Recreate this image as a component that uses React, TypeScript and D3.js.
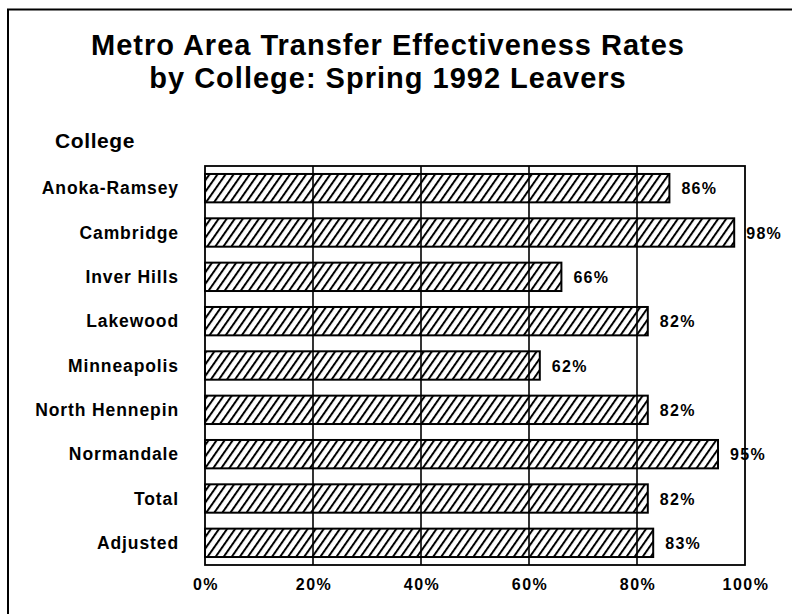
import * as d3 from "d3";

// data
const colleges = [
  "Anoka-Ramsey",
  "Cambridge",
  "Inver Hills",
  "Lakewood",
  "Minneapolis",
  "North Hennepin",
  "Normandale",
  "Total",
  "Adjusted",
];
const rates = [86, 98, 66, 82, 62, 82, 95, 82, 83];
const ticks = [0, 20, 40, 60, 80, 100];
const titleLines = [
  "Metro Area Transfer Effectiveness Rates",
  "by College: Spring 1992 Leavers",
];

const W = 792;
const H = 614;
const font = "'Liberation Sans', Arial, Helvetica, sans-serif";

const App = () => {
  const x = d3.scaleLinear().domain([0, 100]).range([205, 745]);
  const y = d3
    .scaleBand<string>()
    .domain(colleges)
    .range([166, 565])
    .paddingInner(0.36)
    .paddingOuter(0.18);

  return (
    <svg
      width={W}
      height={H}
      style={{ position: "absolute", left: 0, top: 0, background: "#fff" }}
    >
      <defs>
        <pattern
          id="hatch"
          patternUnits="userSpaceOnUse"
          width={6.6}
          height={10}
          patternTransform="rotate(35)"
        >
          <rect width={6.6} height={10} fill="#fff" />
          <line x1={1} y1={0} x2={1} y2={10} stroke="#000" strokeWidth={2} />
        </pattern>
      </defs>

      {/* outer frame (only top and left edges are inside the picture) */}
      <rect x={8} y={9.5} width={W + 20} height={H + 20} fill="none" stroke="#000" strokeWidth={2} />

      {/* title */}
      <g fontFamily={font} fontWeight="bold" fontSize={29} textAnchor="middle" letterSpacing={1}>
        {titleLines.map((t, i) => (
          <text key={t} x={388} y={55 + i * 33}>
            {t}
          </text>
        ))}
      </g>

      <text x={55} y={148} fontFamily={font} fontWeight="bold" fontSize={21} letterSpacing={0.6}>
        College
      </text>

      {/* bars */}
      {colleges.map((c, i) => (
        <rect
          key={c}
          x={x(0)}
          y={y(c)}
          width={x(rates[i]) - x(0)}
          height={y.bandwidth()}
          fill="url(#hatch)"
          stroke="#000"
          strokeWidth={2}
        />
      ))}

      {/* gridlines on top of bars */}
      {ticks.slice(1, -1).map((t) => (
        <line key={t} x1={x(t)} x2={x(t)} y1={166} y2={565} stroke="#000" strokeWidth={1.6} />
      ))}

      {/* plot frame */}
      <rect x={x(0)} y={166} width={x(100) - x(0)} height={565 - 166} fill="none" stroke="#000" strokeWidth={1.8} />

      {/* category labels */}
      <g fontFamily={font} fontWeight="bold" fontSize={17.5} textAnchor="end" letterSpacing={0.9}>
        {colleges.map((c) => (
          <text key={c} x={179} y={(y(c) ?? 0) + y.bandwidth() / 2 + 6}>
            {c}
          </text>
        ))}
      </g>

      {/* value labels */}
      <g fontFamily={font} fontWeight="bold" fontSize={16} letterSpacing={1.3}>
        {colleges.map((c, i) => (
          <text key={c} x={x(rates[i]) + 12} y={(y(c) ?? 0) + y.bandwidth() / 2 + 6}>
            {rates[i] + "%"}
          </text>
        ))}
      </g>

      {/* x tick labels */}
      <g fontFamily={font} fontWeight="bold" fontSize={16} textAnchor="middle" letterSpacing={1.5}>
        {ticks.map((t) => (
          <text key={t} x={x(t) + 1} y={590}>
            {t + "%"}
          </text>
        ))}
      </g>
    </svg>
  );
};

export default App;
